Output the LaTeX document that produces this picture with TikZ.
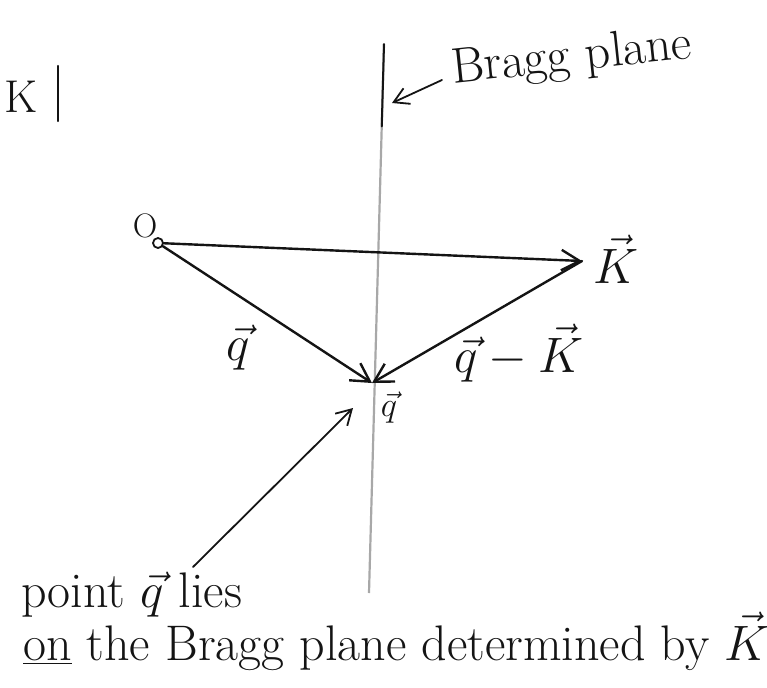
\documentclass[tikz,border=0pt]{standalone}
\usetikzlibrary{arrows.meta,calc,positioning}
\definecolor{bpink}{HTML}{141414}
\definecolor{bpgray}{HTML}{A8A8A8}
\tikzset{
  bp text/.style={font=\fontsize{23}{27}\selectfont, text=bpink},
  bp note/.style={font=\fontsize{25}{29}\selectfont, text=bpink},
  bp small/.style={font=\fontsize{17}{20}\selectfont, text=bpink, inner sep=1pt},
  bp arrow/.style={-{Straight Barb[length=3.2mm,width=3.6mm]}, line width=1.2pt,
    draw=bpink, line cap=round},
  bp thin arrow/.style={-{Straight Barb[length=2.6mm,width=3mm]}, line width=0.9pt,
    draw=bpink, line cap=round},
  bp plane/.style={draw=bpgray, line width=1.1pt},
  bp ink/.style={draw=bpink, line width=1.2pt, line cap=round},
  bp point/.style={circle, draw=bpink, line width=0.9pt, inner sep=0pt,
    minimum size=5pt, fill=white}
}

\begin{document}
\begin{tikzpicture}[x=0.5pt, y=-0.5pt]
  \useasboundingbox (0,0) rectangle (767,687);
  % K with its bar
  \node[bp text] (klab) at (21,97) {K};
  \draw[bp ink] (58,66) -- (58,121);
  % the Bragg plane
  \coordinate (planetop) at (384,44);
  \coordinate (planebot) at (369,593);
  \draw[bp plane] (planetop) -- (planebot);
  \draw[bp ink, line width=1pt] (planetop) -- ($(planetop)!0.15!(planebot)$);
  \node[bp note, rotate=6, anchor=base west] (bragg) at (446,84) {Bragg plane};
  \coordinate (braggtip) at (392,103);
  \draw[bp thin arrow] (bragg.base west) ++(-4,-4) coordinate (braggtail) -- (braggtip);
  % the triangle of vectors
  \node[bp point] (origin) at (158,243) {};
  \node[bp small] (olab) at (145,226) {O};
  \coordinate (ktip) at (582,261);
  \coordinate (qpt) at (372,383);
  \draw[bp arrow] (origin) -- (ktip);
  \draw[bp arrow] (origin) -- (qpt);
  \draw[bp arrow] (ktip) -- (qpt);
  \node[bp text] (kvec) at (616,259) {$\vec K$};
  \node[bp text] (qvec) at (238,348) {$\vec q$};
  \node[bp text] (qkvec) at (519,353) {$\vec q-\vec K$};
  \node[bp small] (qlab) at (389,408) {$\vec q$};
  % the note below
  \node[bp note, anchor=base west] (pointlab) at (14,607) {point $\vec q$ lies};
  \node[bp note, anchor=base west] (onlab) at (16,660)
    {\underline{on} the Bragg plane determined by $\vec K$};
  \coordinate (liestail) at (193,567);
  \coordinate (liestip) at (353,408);
  \draw[bp thin arrow] (liestail) -- (liestip);
\end{tikzpicture}
\end{document}
